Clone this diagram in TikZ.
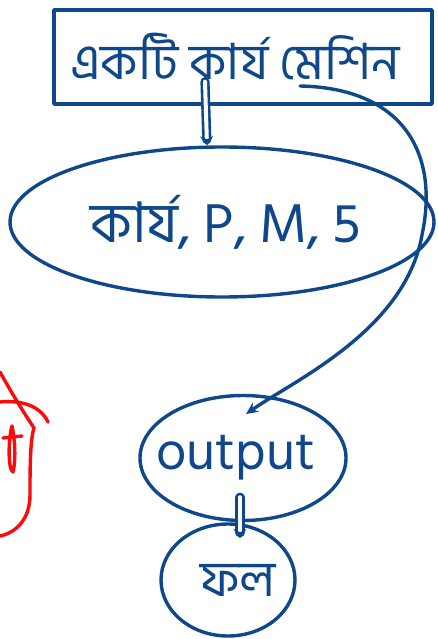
\documentclass[tikz,border=0pt]{standalone}
\usepackage{fontspec}
\newfontfamily\bn[Script=Bengali]{Hind Siliguri}
\usetikzlibrary{shapes.geometric,arrows.meta}
\definecolor{ink}{RGB}{14,72,138}
\definecolor{redink}{RGB}{250,12,12}
\tikzset{
  titlebox/.style={draw, rectangle, minimum width=378pt, minimum height=94pt, inner sep=0pt, font=\bn\fontsize{50}{56}\selectfont},
  oval/.style={draw, ellipse, inner sep=0pt},
  dbl/.style={double=white, double distance=4pt, line width=2.6pt, -{Stealth[length=9pt,width=13pt]}},
  conn/.style={line width=3.4pt, -{Stealth[length=12pt,width=11pt]}},
  redstroke/.style={redink, line width=3.4pt}
}
\begin{document}
\begin{tikzpicture}[x=1pt,y=-1pt, line width=3.4pt, ink, line cap=round, line join=round]
\useasboundingbox (0,0) rectangle (437,639);
\node[titlebox] (title) at (243,57) {\makebox[0pt]{\hspace*{-16pt}একটি কার্য মেশিন}};
\node[oval, minimum width=424pt, minimum height=150pt, font=\bn\fontsize{56}{62}\selectfont] (machine) at (222,222) {\makebox[0pt]{\hspace*{8pt}কার্য, P, M, 5}};
\node[oval, minimum width=206pt, minimum height=125pt, font=\bn\fontsize{54}{60}\selectfont] (out) at (243,458) {\makebox[0pt]{\raisebox{-8pt}{\hspace*{-14pt}output}}};
\node[oval, minimum width=134pt, minimum height=112pt, font=\bn\fontsize{50}{56}\selectfont] (res) at (228,580) {\makebox[0pt]{\hspace*{20pt}ফল}};
\coordinate (cstart) at (300,86);
\coordinate (cend) at (246,414);
\draw[dbl] ([xshift=-38pt,yshift=24pt]title.south) -- ([xshift=-15pt]machine.north);
\draw[conn] (cstart) .. controls (400,88) and (440,150) .. (422,235) .. controls (405,330) and (295,380) .. (cend);
\draw[dbl] ([xshift=-3pt,yshift=25pt]out.south) -- ([xshift=12pt,yshift=-16pt]res.north);
\draw[redstroke] (0,372) .. controls (10,390) and (22,410) .. (34,428) .. controls (30,440) and (30,470) .. (30,495) .. controls (30,520) and (15,533) .. (0,536);
\draw[redstroke] (0,402) .. controls (20,400) and (40,405) .. (48,422);
\draw[redstroke] (12,426) .. controls (8,440) and (8,470) .. (13,472) .. controls (16,460) and (15,440) .. (12,426);
\draw[redstroke] (3,438) -- (22,436);
\end{tikzpicture}
\end{document}
